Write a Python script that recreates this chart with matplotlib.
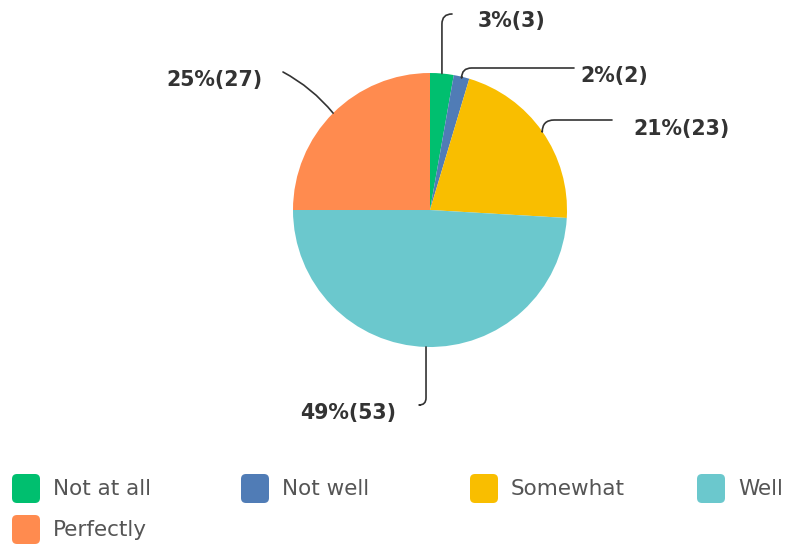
import numpy as np
import matplotlib.pyplot as plt
from matplotlib.patches import FancyBboxPatch

categories = ["Not at all", "Not well", "Somewhat", "Well", "Perfectly"]
counts = [3, 2, 23, 53, 27]
percent_labels = ["3%(3)", "2%(2)", "21%(23)", "49%(53)", "25%(27)"]
colors = ["#00BF6F", "#507CB6", "#F9BE00", "#6BC8CD", "#FF8B4F"]

W, H = 791, 544
fig = plt.figure(figsize=(W / 100, H / 100), dpi=100)
ax = fig.add_axes([0, 0, 1, 1])


def py(y):
    # pixel row (from top) -> data y
    return H - y


wedges, _ = ax.pie(counts, colors=colors, startangle=90, counterclock=False,
                   center=(430, py(210)), radius=137, frame=True,
                   wedgeprops=dict(linewidth=0))

# label text positions (left edge, centre row) and leader line ends, in pixels
label_pos = [(478, 21), (580, 76), (633, 129), (300, 413), (166, 80)]
line_end = [(452, 14), (574, 68), (612, 120), (420, 405), (283, 72)]
conn = ["angle,angleA=0,angleB=90,rad=10",
        "angle,angleA=0,angleB=90,rad=10",
        "angle,angleA=0,angleB=90,rad=12",
        "angle,angleA=0,angleB=90,rad=7",
        "arc3,rad=-0.1"]

for w, lab, (lx, ly), (ex, ey), cs in zip(wedges, percent_labels, label_pos, line_end, conn):
    mid = np.deg2rad((w.theta1 + w.theta2) / 2)
    sx = w.center[0] + w.r * np.cos(mid)
    sy = w.center[1] + w.r * np.sin(mid)
    ax.annotate("", xy=(sx, sy), xytext=(ex, py(ey)),
                arrowprops=dict(arrowstyle="-", color="#333333", lw=1.2,
                                connectionstyle=cs, shrinkA=0, shrinkB=0))
    ax.text(lx, py(ly), lab, ha="left", va="center", fontsize=14.8,
            fontweight="bold", color="#333333", family="DejaVu Sans")

# legend
leg_x = [12, 241, 470, 697]
for i, (cat, col) in enumerate(zip(categories, colors)):
    row, c = divmod(i, 4)
    x0 = leg_x[c]
    y0 = 474 + row * 41
    box = FancyBboxPatch((x0 + 4, py(y0 + 29) + 4), 20, 21,
                         boxstyle="round,pad=4,rounding_size=5",
                         fc=col, ec="none")
    ax.add_patch(box)
    ax.text(x0 + 41, py(y0 + 15), cat, ha="left", va="center", fontsize=15.5,
            color="#555555", family="DejaVu Sans")

ax.set_xlim(0, W)
ax.set_ylim(0, H)
ax.set_aspect("equal")
ax.axis("off")
fig.savefig("out.png", dpi=100)
